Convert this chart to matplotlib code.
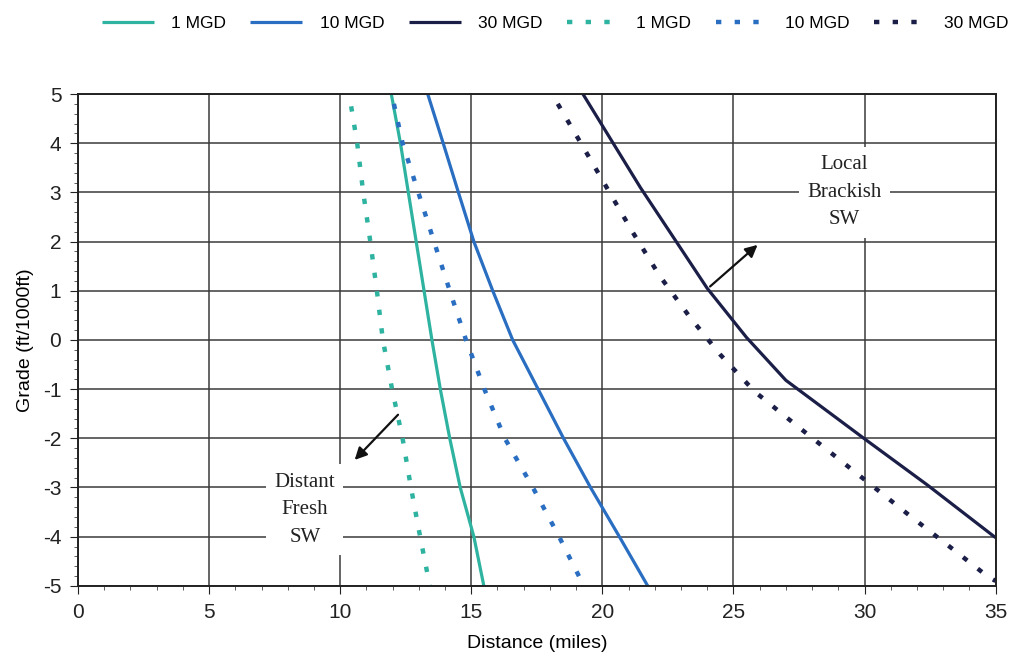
import matplotlib
matplotlib.use("Agg")
import matplotlib.pyplot as plt
from matplotlib.ticker import MultipleLocator

plt.rcParams['font.family'] = ['Liberation Sans', 'DejaVu Sans']
plt.rcParams['axes.unicode_minus'] = False

## data -------------------------------------------------------------------------
# solid lines (Distance in miles for each grade in ft/1000ft)
grade_1_solid = [5, 4, 3, 2, 1, 0, -1, -2, -3, -4, -5]
dist_1_solid = [11.95, 12.3, 12.6, 12.9, 13.2, 13.5, 13.82, 14.18, 14.58, 15.1, 15.48]

grade_10_solid = [5, 4, 3, 2, 1, 0, -1, -2, -3, -4, -5]
dist_10_solid = [13.34, 13.93, 14.51, 15.1, 15.82, 16.58, 17.55, 18.52, 19.55, 20.65, 21.73]

grade_30_solid = [5, 3.1, 1.05, 0.05, -0.82, -2.03, -2.95, -4.02]
dist_30_solid = [19.26, 21.45, 24.0, 25.5, 27.0, 30.05, 32.4, 35.0]

# dotted lines
grade_1_dot = [4.75, 4, 3, 2, 1, 0, -1, -2, -3, -4, -5]
dist_1_dot = [10.42, 10.65, 10.88, 11.15, 11.4, 11.63, 11.98, 12.38, 12.7, 13.05, 13.42]

grade_10_dot = [4.8, 4, 3, 2, 1, 0, -1, -2, -3, -4, -4.9]
dist_10_dot = [12.05, 12.38, 12.98, 13.58, 14.18, 14.8, 15.5, 16.28, 17.35, 18.35, 19.2]

grade_30_dot = [4.8, 3.93, 3.05, 2.18, 1.3, 0.47, -0.3, -1.05, -1.68, -2.3, -2.95, -3.57, -4.2, -4.81, -4.9]
dist_30_dot = [18.3, 19.26, 20.22, 21.17, 22.19, 23.33, 24.5, 25.81, 27.27, 28.73, 30.26, 31.72, 33.24, 34.7, 35.0]

labels = ["1 MGD", "10 MGD", "30 MGD"]
colors = ["#2fb3a1", "#2a6ec2", "#1b1f48"]

## plot -------------------------------------------------------------------------
fig = plt.figure(figsize=(10.18, 6.65), dpi=100)
ax = fig.add_axes([0.0766, 0.119, 0.9014, 0.7396])

solid = [(dist_1_solid, grade_1_solid), (dist_10_solid, grade_10_solid), (dist_30_solid, grade_30_solid)]
dotted = [(dist_1_dot, grade_1_dot), (dist_10_dot, grade_10_dot), (dist_30_dot, grade_30_dot)]

handles = []
for (x, y), c, lab in zip(solid, colors, labels):
    h, = ax.plot(x, y, color=c, lw=2.3, label=lab, solid_capstyle="butt")
    handles.append(h)
for (x, y), c, lab in zip(dotted, colors, labels):
    h, = ax.plot(x, y, color=c, lw=3.2, linestyle=(0, (1.2, 3.0)), label=lab)
    handles.append(h)

ax.set_xlim(0, 35)
ax.set_ylim(-5, 5)
ax.set_xticks(range(0, 36, 5))
ax.set_yticks(range(-5, 6))
ax.xaxis.set_minor_locator(MultipleLocator(1))
ax.yaxis.set_minor_locator(MultipleLocator(0.2))
ax.grid(True, which="major", color="#3a3a3a", lw=1.1)
ax.set_axisbelow(True)
for s in ax.spines.values():
    s.set_color("#222222")
    s.set_linewidth(1.4)
ax.tick_params(which="major", length=6, labelsize=15, colors="#222222", pad=6)
ax.tick_params(which="minor", length=3, colors="#444444")
ax.set_xlabel("Distance (miles)", fontsize=14, labelpad=10)
ax.set_ylabel("Grade (ft/1000ft)", fontsize=14, labelpad=6)

# annotations
serif = ["Liberation Serif", "DejaVu Serif"]
ax.text(8.65, -3.45, "Distant\nFresh\nSW", ha="center", va="center", fontsize=15,
        family=serif, linespacing=1.6, color="#222222",
        bbox=dict(facecolor="white", edgecolor="none", pad=6))
ax.annotate("", xy=(10.48, -2.48), xytext=(12.28, -1.48),
            arrowprops=dict(arrowstyle="-|>", color="#111111", lw=1.6, mutation_scale=18))

ax.text(29.24, 3.0, "Local\nBrackish\nSW", ha="center", va="center", fontsize=15,
        family=serif, linespacing=1.6, color="#222222",
        bbox=dict(facecolor="white", edgecolor="none", pad=6))
ax.annotate("", xy=(26.0, 1.97), xytext=(24.03, 1.05),
            arrowprops=dict(arrowstyle="-|>", color="#111111", lw=1.6, mutation_scale=18))

fig.legend(handles=handles, labels=labels * 2, loc="upper center", bbox_to_anchor=(0.545, 1.0),
           ncol=6, frameon=False, fontsize=12.5, handlelength=3.0, columnspacing=1.4,
           handletextpad=1.0)

fig.savefig("out.png", dpi=100)
